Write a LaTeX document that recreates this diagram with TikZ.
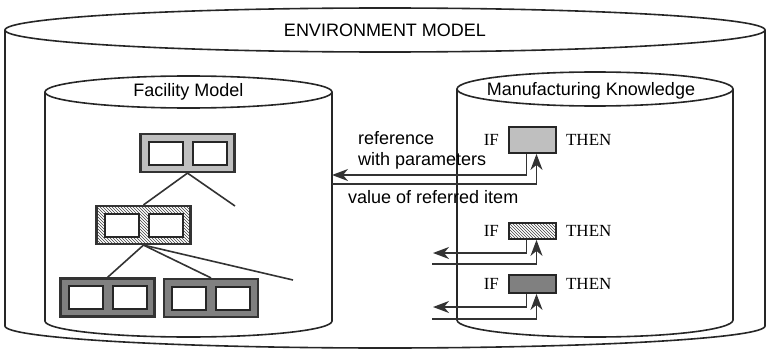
\documentclass[tikz,border=0pt]{standalone}
\usepackage{fontspec}
\setmainfont{Liberation Sans}
\newfontfamily\rulefont{Liberation Serif}
\usetikzlibrary{
    arrows.meta,      % For arrow tip styles
    positioning,      % For IF / THEN beside the rule boxes
    patterns          % For the hatched boxes
}

\begin{document}
\begin{tikzpicture}[
    x=1pt, y=-1pt,
    font=\fontsize{18}{21}\selectfont,
    % Define styles
    drumline/.style={draw=black!85, line width=1.6pt}, % Cylinder outlines
    title/.style={inner sep=0pt}, % Cylinder titles
    record/.style={rectangle, draw=black!80, line width=2.2pt, minimum width=94pt, minimum height=38pt, inner sep=0pt}, % Facility item
    cell/.style={rectangle, draw=black!85, line width=2pt, fill=white, minimum width=34pt, minimum height=23pt, inner sep=0pt}, % Slot of an item
    lightfill/.style={fill=black!25},
    darkfill/.style={fill=black!50},
    hatchfill/.style={pattern=north west lines, pattern color=black!75},
    rulebox/.style={rectangle, draw=black!85, line width=1.8pt, minimum width=47pt, inner sep=0pt}, % Condition of a rule
    kw/.style={font=\rulefont\fontsize{17}{20}\selectfont, inner sep=0pt}, % IF / THEN
    link/.style={draw=black!80, line width=1.6pt}, % Tree lines
    arrow/.style={link, -{Stealth[length=16pt, width=12pt, inset=5pt]}} % Arrow style
]
\useasboundingbox (0,0) rectangle (768,353);

% ----- ENVIRONMENT MODEL -----
\draw [drumline] (385,30) ellipse [x radius=380pt, y radius=22pt];
\draw [drumline] (5,30) -- (5,326) arc [start angle=180, end angle=360, x radius=380pt, y radius=22pt] -- (765,30);
\node (env_label) [title] at (385,30) {ENVIRONMENT MODEL};

% ----- FACILITY MODEL -----
\draw [drumline] (188.5,92) ellipse [x radius=143.5pt, y radius=16pt];
\draw [drumline] (45,92) -- (45,321) arc [start angle=180, end angle=360, x radius=143.5pt, y radius=16pt] -- (332,92);
\node (fac_label) [title] at (188.5,92) {Facility Model};

\node (top_rec) [record, lightfill] at (187.5,153) {};
\node (mid_rec) [record, hatchfill] at (143.5,225) {};
\node (bl_rec)  [record, darkfill]  at (107.5,297.5) {};
\node (br_rec)  [record, darkfill]  at (211,298) {};
\foreach \r in {top_rec, mid_rec, bl_rec, br_rec} {
    \node [cell] (\r_l) at ([xshift=-22pt]\r.center) {};
    \node [cell] (\r_r) at ([xshift=22pt]\r.center) {};
}

\coordinate (top_free) at (235,206);
\coordinate (mid_free) at (293,280);
\draw [link] (top_rec.south) -- (mid_rec.north);
\draw [link] (top_rec.south) -- (top_free);
\draw [link] (mid_rec.south) -- (bl_rec.north);
\draw [link] (mid_rec.south) -- (br_rec.north);
\draw [link] (mid_rec.south) -- (mid_free);

% ----- MANUFACTURING KNOWLEDGE -----
\draw [drumline] (595,89) ellipse [x radius=138pt, y radius=17pt];
\draw [drumline] (457,89) -- (457,320) arc [start angle=180, end angle=360, x radius=138pt, y radius=17pt] -- (733,89);
\node (mfg_label) [title] at (591,91) {Manufacturing Knowledge};

\node (rule1) [rulebox, lightfill, minimum height=26pt] at (532.5,140) {};
\node (rule2) [rulebox, hatchfill, minimum height=16pt] at (532.5,231) {};
\node (rule3) [rulebox, darkfill,  minimum height=18pt] at (532.5,284) {};
\foreach \n in {1,2,3} {
    \node (if\n)   [kw, left=9pt of rule\n]  {IF};
    \node (then\n) [kw, right=9pt of rule\n] {THEN};
}

% Draw arrows between rules and facility model
\coordinate (fac_in)  at (332,175);
\coordinate (fac_out) at (332,184);
\draw [arrow] ([xshift=-6pt]rule1.south) |- (fac_in);
\draw [arrow] (fac_out) -| ([xshift=4pt]rule1.south);
\node (ref_label) [anchor=west, align=left, inner sep=0pt] at (358,150) {reference\\with parameters};
\node (val_label) [anchor=west, inner sep=0pt] at (348,197) {value of referred item};

\coordinate (r2_out) at (433,253);
\coordinate (r2_in)  at (432,264);
\draw [arrow] ([xshift=-6pt]rule2.south) |- (r2_out);
\draw [arrow] (r2_in) -| ([xshift=4pt]rule2.south);

\coordinate (r3_out) at (433,307);
\coordinate (r3_in)  at (432,319);
\draw [arrow] ([xshift=-6pt]rule3.south) |- (r3_out);
\draw [arrow] (r3_in) -| ([xshift=4pt]rule3.south);

\end{tikzpicture}
\end{document}
